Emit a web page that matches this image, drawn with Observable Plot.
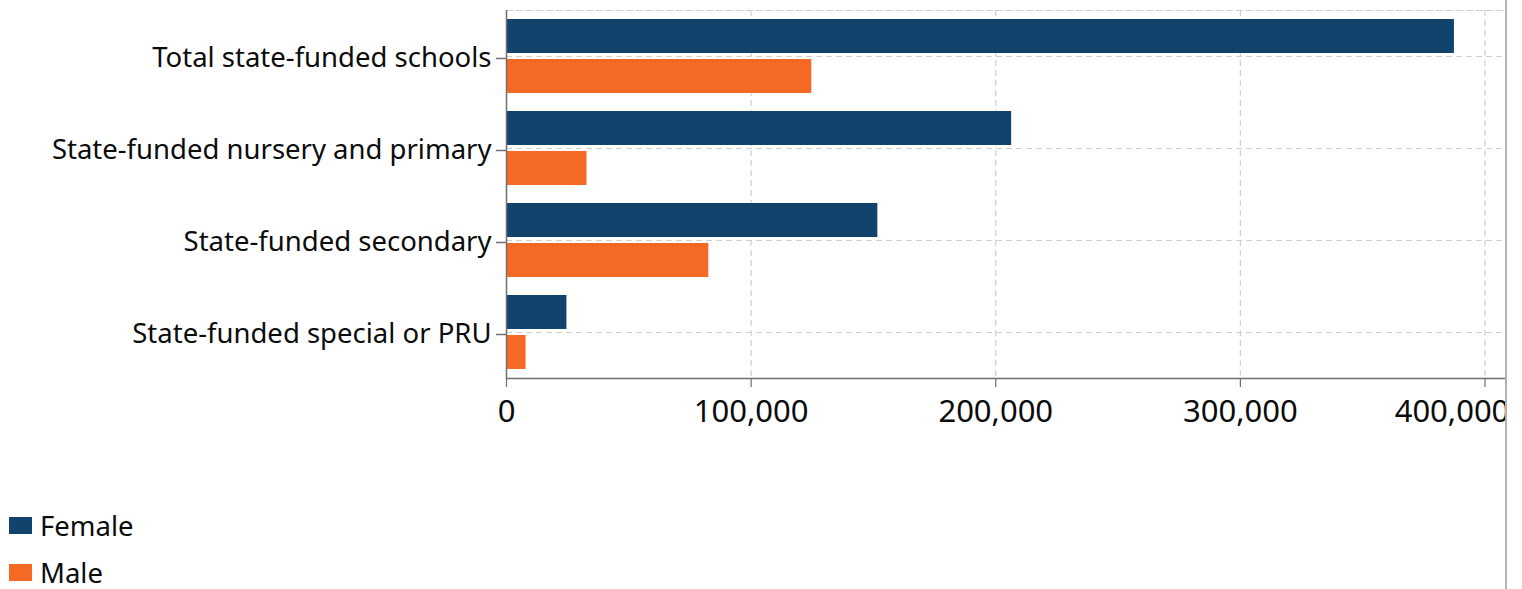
<!DOCTYPE html>
<html>
<head>
<meta charset="utf-8">
<script src="https://cdn.jsdelivr.net/npm/d3@7"></script>
<script src="https://cdn.jsdelivr.net/npm/@observablehq/plot@0.6"></script>
<style>
  html, body { margin: 0; padding: 0; background: #fff; }
  body { font-family: "Noto Sans", sans-serif; color: #0b0c0c; }
  #wrap { position: relative; width: 1505px; height: 589px; overflow: hidden; border-right: 2px solid #b1b4b6; }
  #chart { position: absolute; left: 0; top: 0; width: 1522px; }
  #chart svg { max-width: none; }
  .legend { position: absolute; left: 9px; font-size: 27.5px; display: flex; align-items: center; line-height: 1; }
  .legend .sw { width: 23px; height: 17px; margin-right: 8px; }
</style>
</head>
<body>
<div id="wrap">
  <div id="chart"></div>
  <div class="legend" style="top:512px"><span class="sw" style="background:#12436d"></span>Female</div>
  <div class="legend" style="top:559px"><span class="sw" style="background:#f46a25"></span>Male</div>
</div>
<script>
const categories = [
  "Total state-funded schools",
  "State-funded nursery and primary",
  "State-funded secondary",
  "State-funded special or PRU"
];
const female = [387500, 206500, 151800, 24700];
const male = [124800, 32900, 82700, 8000];
const xTicks = [0, 100000, 200000, 300000, 400000];

const fData = categories.map((c, i) => ({category: c, value: female[i]}));
const mData = categories.map((c, i) => ({category: c, value: male[i]}));

const marginLeft = 506, width = 1522;
const x400 = 1484.5;
const xMax = 400000 * (width - marginLeft) / (x400 - marginLeft);
const lastTick = xTicks[xTicks.length - 1];

const grid = {stroke: "#cfcfcf", strokeWidth: 1.2, strokeDasharray: "6,4"};
const axisStyle = {stroke: "#6f6f6f", strokeWidth: 1.2};
const chart = Plot.plot({
  width,
  height: 470,
  marginLeft,
  marginRight: 0,
  marginTop: 10,
  marginBottom: 92,
  style: {fontFamily: "Noto Sans, sans-serif", color: "#0b0c0c", background: "transparent"},
  x: {domain: [0, xMax], range: [marginLeft, width], label: null},
  y: {domain: categories, padding: 0, label: null},
  marks: [
    Plot.ruleY(categories, {y: d => d, ...grid}),
    Plot.frame({anchor: "top", ...grid}),
    Plot.ruleX(xTicks.slice(1), {...grid}),
    Plot.barX(fData, {y: "category", x: "value", fill: "#12436d", insetTop: 9, insetBottom: 49}),
    Plot.barX(mData, {y: "category", x: "value", fill: "#f46a25", insetTop: 49, insetBottom: 9}),
    Plot.axisY({label: null, tickSize: 10, tickPadding: 5, fontSize: 27.5, stroke: "#6f6f6f", strokeWidth: 1.5, color: "#0b0c0c", dy: 2}),
    Plot.axisX({label: null, ticks: xTicks, tickFormat: d => d === lastTick ? "" : d3.format(",")(d), tickSize: 9, tickPadding: 12, fontSize: 31, ...axisStyle}),
    Plot.axisX([lastTick], {label: null, tickFormat: d3.format(","), tickSize: 9, tickPadding: 12, fontSize: 31, strokeOpacity: 0, dx: -33}),
    Plot.ruleX([0], {stroke: "#6f6f6f", strokeWidth: 1.5}),
    Plot.frame({anchor: "bottom", stroke: "#6f6f6f", strokeWidth: 1.5})
  ]
});
document.getElementById("chart").appendChild(chart);
</script>
</body>
</html>
